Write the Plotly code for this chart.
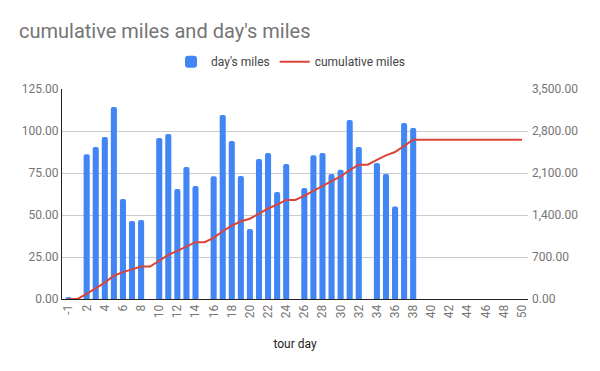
import plotly.graph_objects as go

days = ["-1"] + [str(d) for d in range(1, 51)]

days_miles = [1.2, 0, 86.1, 90.5, 96.4, 114.3, 59.5, 46.4, 47.0, 0,
              95.8, 98.2, 65.5, 78.6, 67.3, 0, 73.0, 109.5, 94.0, 73.2,
              41.7, 83.3, 86.9, 63.7, 80.4, 0, 66.1, 85.5, 86.9, 74.4,
              77.0, 106.5, 90.5, 0, 81.0, 74.4, 55.0, 104.8, 101.8] + [None] * 12

cumulative_miles = [1, 1, 87, 178, 274, 388, 448, 494, 541, 541,
                    637, 735, 801, 879, 947, 947, 1020, 1129, 1223, 1296,
                    1338, 1421, 1508, 1572, 1652, 1652, 1718, 1804, 1891, 1965,
                    2042, 2149, 2239, 2239, 2320, 2395, 2450, 2554, 2656,
                    2656, 2656, 2656, 2656, 2656, 2656, 2656, 2656, 2656, 2656, 2656, 2656]

left_ticks = [0, 25, 50, 75, 100, 125]
right_ticks = [0, 700, 1400, 2100, 2800, 3500]

FONT = "Roboto, Arial, sans-serif"

fig = go.Figure()
fig.add_trace(go.Bar(
    x=days, y=days_miles, name="day's miles",
    marker=dict(color="#4285F4", line=dict(width=0), cornerradius=2),
    yaxis="y",
))
fig.add_trace(go.Scatter(
    x=days, y=cumulative_miles, name="cumulative miles", mode="lines",
    line=dict(color="#DB4437", width=2),
    yaxis="y2",
))

fig.update_layout(
    width=600, height=371,
    margin=dict(l=62, r=72, t=89, b=72),
    paper_bgcolor="white", plot_bgcolor="white",
    font=dict(family=FONT, size=12, color="#444444"),
    title=dict(text="cumulative miles and day's miles", x=19/600, xanchor="left",
               y=1 - 31/371, yanchor="middle",
               font=dict(family=FONT, size=20, color="#757575")),
    showlegend=True,
    legend=dict(orientation="h", x=0.5 - 4 / 466, xanchor="center", y=1.13, yanchor="middle",
                font=dict(family=FONT, size=12, color="#444444"),
                bgcolor="rgba(0,0,0,0)", itemwidth=30, traceorder="normal"),
    bargap=0.33,
    xaxis=dict(
        type="category", categoryorder="array", categoryarray=days,
        range=[-0.72, 50.66],
        tickmode="array", tickvals=days[::2], ticktext=days[::2],
        tickangle=-90, ticks="", showgrid=False,
        showline=True, linecolor="#222222", linewidth=1,
        tickfont=dict(family=FONT, size=12, color="#757575"),
        title=dict(text="tour day", standoff=22, font=dict(family=FONT, size=12, color="#222222")),
        automargin=False,
    ),
    yaxis=dict(
        range=[0, 125], tickmode="array", tickvals=left_ticks,
        ticktext=[f"{v:.2f}" for v in left_ticks],
        showgrid=True, gridcolor="#cccccc", gridwidth=1, zeroline=False,
        showline=True, linecolor="#222222", linewidth=1,
        tickfont=dict(family=FONT, size=12, color="#757575"),
        ticks="", automargin=False,
    ),
    yaxis2=dict(
        range=[0, 3500], overlaying="y", side="right",
        tickmode="array", tickvals=right_ticks,
        ticktext=[f"{v:,.2f}" for v in right_ticks],
        showgrid=False, zeroline=False, showline=False,
        tickfont=dict(family=FONT, size=12, color="#757575"),
        ticks="", ticklabelstandoff=3, automargin=False,
    ),
)

fig.write_html("out.html", config={"displayModeBar": False},
               post_script="document.body.style.margin='0';document.body.style.padding='0';")
